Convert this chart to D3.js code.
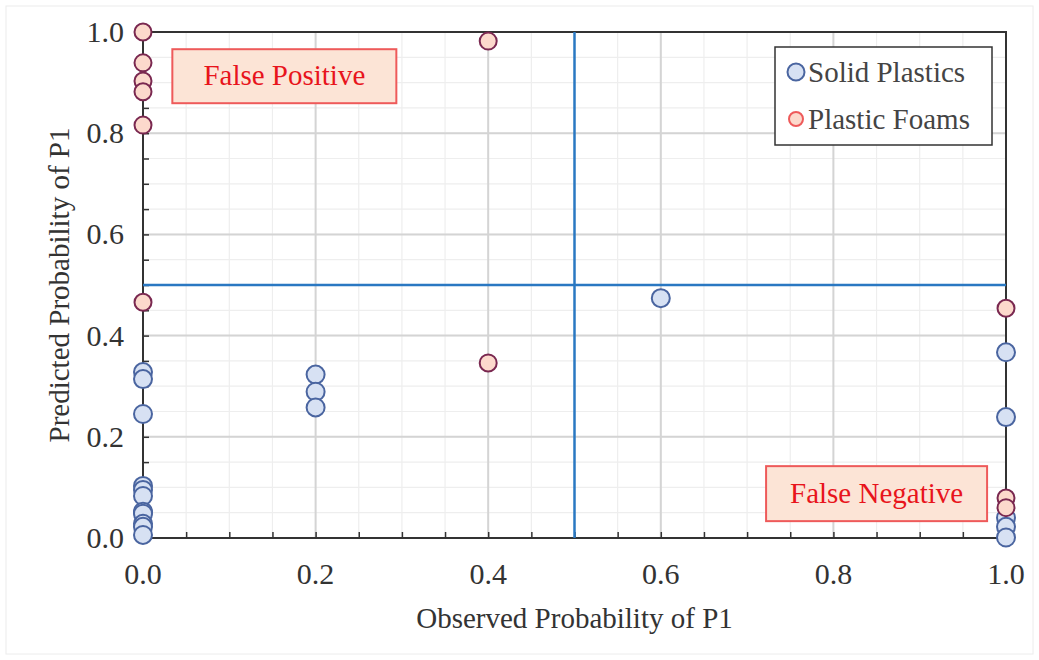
<!DOCTYPE html>
<html>
<head>
<meta charset="utf-8">
<script src="https://cdn.jsdelivr.net/npm/d3@7"></script>
<style>
  body { margin: 0; background: #fff; }
</style>
</head>
<body>
<div id="chart"></div>
<script>
// observed / predicted probability pairs
var solidX = [0, 0, 0, 0, 0, 0, 0, 0, 0, 0, 0, 0.2, 0.2, 0.2, 0.6, 1, 1, 1, 1, 1];
var solidY = [0.328, 0.314, 0.245, 0.103, 0.095, 0.083, 0.052, 0.048, 0.028, 0.022, 0.006,
              0.323, 0.289, 0.258, 0.474, 0.367, 0.239, 0.040, 0.022, 0.001];
var foamX = [0, 0, 0, 0, 0, 0, 0.4, 0.4, 1, 1, 1];
var foamY = [1.0, 0.939, 0.903, 0.882, 0.816, 0.466, 0.982, 0.346, 0.454, 0.079, 0.060];
var tickValues = [0, 0.2, 0.4, 0.6, 0.8, 1.0];
var seriesNames = ["Solid Plastics", "Plastic Foams"];

var width = 1039, height = 660;
var margin = {left: 143, right: 33, top: 32, bottom: 122};
var serif = "'Liberation Serif', 'Times New Roman', serif";

var svg = d3.select("#chart").append("svg")
    .attr("width", width)
    .attr("height", height)
    .attr("font-family", serif);

svg.append("rect")
    .attr("x", 6).attr("y", 6)
    .attr("width", width - 12).attr("height", height - 12)
    .attr("fill", "#fff").attr("stroke", "#ececec");

var x = d3.scaleLinear().domain([0, 1]).range([margin.left, width - margin.right]);
var y = d3.scaleLinear().domain([0, 1]).range([height - margin.bottom, margin.top]);

var minor = d3.range(0, 1.0001, 0.05);
var g = svg.append("g");

// minor grid
g.selectAll(".vminor").data(minor).enter().append("line")
    .attr("x1", function(d){ return x(d); }).attr("x2", function(d){ return x(d); })
    .attr("y1", y(0)).attr("y2", y(1))
    .attr("stroke", "#eeeeee").attr("stroke-width", 1.2);
g.selectAll(".hminor").data(minor).enter().append("line")
    .attr("y1", function(d){ return y(d); }).attr("y2", function(d){ return y(d); })
    .attr("x1", x(0)).attr("x2", x(1))
    .attr("stroke", "#eeeeee").attr("stroke-width", 1.2);
// major grid
g.selectAll(".vmajor").data(tickValues).enter().append("line")
    .attr("x1", function(d){ return x(d); }).attr("x2", function(d){ return x(d); })
    .attr("y1", y(0)).attr("y2", y(1))
    .attr("stroke", "#d4d4d4").attr("stroke-width", 2);
g.selectAll(".hmajor").data(tickValues).enter().append("line")
    .attr("y1", function(d){ return y(d); }).attr("y2", function(d){ return y(d); })
    .attr("x1", x(0)).attr("x2", x(1))
    .attr("stroke", "#d4d4d4").attr("stroke-width", 2);

// axes with inward minor ticks
var fmt = d3.format(".1f");
var xAxis = svg.append("g")
    .attr("transform", "translate(0," + y(0) + ")")
    .call(d3.axisTop(x).tickValues(minor).tickSize(6).tickFormat(""));
var yAxis = svg.append("g")
    .attr("transform", "translate(" + x(0) + ",0)")
    .call(d3.axisRight(y).tickValues(minor).tickSize(6).tickFormat(""));
[xAxis, yAxis].forEach(function(a){
    a.select(".domain").remove();
    a.selectAll(".tick line").attr("stroke", "#333").attr("stroke-width", 1.5);
});

svg.selectAll(".xlab").data(tickValues).enter().append("text")
    .attr("x", function(d){ return x(d); })
    .attr("y", y(0) + 46)
    .attr("text-anchor", "middle")
    .attr("font-family", serif)
    .attr("font-size", 30).attr("fill", "#333")
    .text(fmt);
svg.selectAll(".ylab").data(tickValues).enter().append("text")
    .attr("x", x(0) - 19)
    .attr("y", function(d){ return y(d) + 10; })
    .attr("text-anchor", "end")
    .attr("font-family", serif)
    .attr("font-size", 30).attr("fill", "#333")
    .text(fmt);

// frame
svg.append("rect")
    .attr("x", x(0)).attr("y", y(1))
    .attr("width", x(1) - x(0)).attr("height", y(0) - y(1))
    .attr("fill", "none").attr("stroke", "#333").attr("stroke-width", 2);

// 0.5 threshold lines
svg.append("line")
    .attr("x1", x(0.5)).attr("x2", x(0.5)).attr("y1", y(0)).attr("y2", y(1))
    .attr("stroke", "#2a78c2").attr("stroke-width", 2.5);
svg.append("line")
    .attr("x1", x(0)).attr("x2", x(1)).attr("y1", y(0.5)).attr("y2", y(0.5))
    .attr("stroke", "#2a78c2").attr("stroke-width", 2.5);

// annotation boxes
function note(x0, y0, w, h, label) {
    svg.append("rect")
        .attr("x", x0).attr("y", y0).attr("width", w).attr("height", h)
        .attr("fill", "#fce4d6").attr("stroke", "#ee5a5a").attr("stroke-width", 2);
    svg.append("text")
        .attr("x", x0 + w / 2).attr("y", y0 + h / 2 + 9)
        .attr("text-anchor", "middle")
        .attr("font-family", serif)
        .attr("font-size", 29).attr("fill", "#e8141c")
        .text(label);
}
note(x(0.034), y(0.966), 224, 54, "False Positive");
note(x(0.722), y(0.142), 221, 55, "False Negative");

// points
var solid = solidX.map(function(v, i){ return [v, solidY[i]]; });
var foam = foamX.map(function(v, i){ return [v, foamY[i]]; });

svg.append("g").selectAll("circle").data(solid).enter().append("circle")
    .attr("cx", function(d){ return x(d[0]); })
    .attr("cy", function(d){ return y(d[1]); })
    .attr("r", 9)
    .attr("fill", "#d7e1f3").attr("stroke", "#4a65a0").attr("stroke-width", 2);
svg.append("g").selectAll("circle").data(foam).enter().append("circle")
    .attr("cx", function(d){ return x(d[0]); })
    .attr("cy", function(d){ return y(d[1]); })
    .attr("r", 8.5)
    .attr("fill", "#fcd9cc").attr("stroke", "#7a2850").attr("stroke-width", 2);

// legend
var leg = svg.append("g").attr("transform", "translate(775,47)");
leg.append("rect").attr("width", 217).attr("height", 98)
    .attr("fill", "#fff").attr("stroke", "#333").attr("stroke-width", 1.5);
var legFill = ["#d7e1f3", "#fcd9cc"], legStroke = ["#4a65a0", "#ee5a5a"], legR = [8.5, 7];
seriesNames.forEach(function(n, i){
    leg.append("circle").attr("cx", 21).attr("cy", 25 + i * 47).attr("r", legR[i])
        .attr("fill", legFill[i]).attr("stroke", legStroke[i]).attr("stroke-width", 2);
    leg.append("text").attr("x", 33).attr("y", 35 + i * 47)
        .attr("font-family", serif)
        .attr("font-size", 29).attr("fill", "#444")
        .text(n);
});

// axis titles
svg.append("text")
    .attr("x", x(0.5)).attr("y", 628)
    .attr("text-anchor", "middle")
    .attr("font-family", serif)
    .attr("font-size", 29).attr("fill", "#333")
    .text("Observed Probability of P1");
svg.append("text")
    .attr("transform", "translate(69," + y(0.5) + ") rotate(-90)")
    .attr("text-anchor", "middle")
    .attr("font-family", serif)
    .attr("font-size", 29).attr("fill", "#333")
    .text("Predicted Probability of P1");
</script>
</body>
</html>
